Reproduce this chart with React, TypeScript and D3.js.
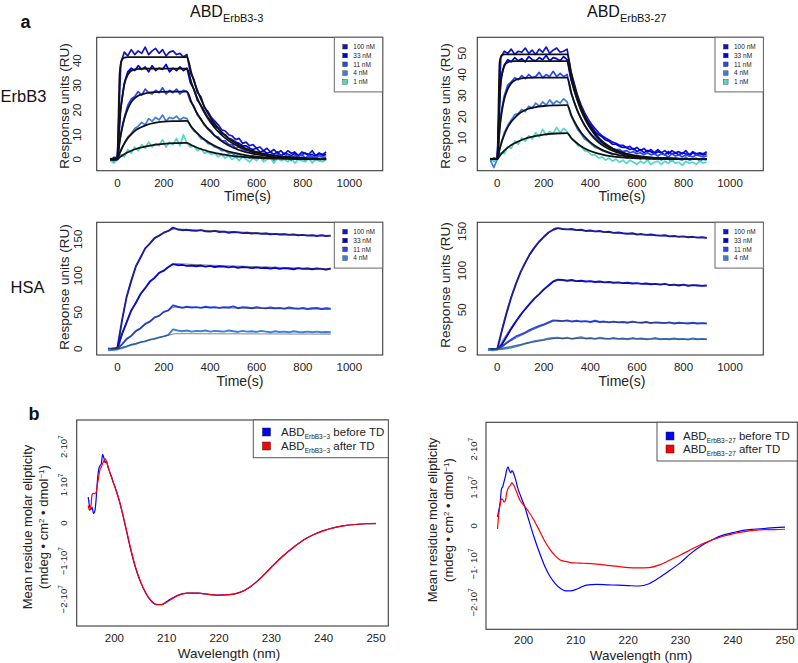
import React from 'react';
import * as d3 from 'd3';

const FONT = '"Liberation Sans", Arial, Helvetica, sans-serif';

// ---------------- legend / categories ----------------
const CONC_LABELS = ['100 nM', '33 nM', '11 nM', '4 nM', '1 nM'];
const CONC_COLORS = ['#1414bc', '#0000e4', '#2848f4', '#3c80dc', '#50d8c8'];

const X_TICKS_SPR = [0, 200, 400, 600, 800, 1000];
const Y_TICKS_ERB3_3 = [0, 10, 20, 30, 40];
const Y_TICKS_ERB3_27 = [0, 10, 20, 30, 40, 50];
const Y_TICKS_HSA = [0, 50, 100, 150];

// sampling of the measured sensorgrams (s)
const ERB_T0 = -30, ERB_DT = 15;
const HSA_T0 = -40, HSA_DT = 20;

// ---------------- ABD ErbB3-3 on ErbB3 (RU) ----------------
const ERB3_3_ERB_100 = [0.5, -0.8, 1.5, 39, 43.5, 42, 44.5, 42.5, 44, 43, 45.5, 42.5, 44, 45, 43, 44.5, 42, 43.5, 44, 42.5, 43, 41.5, 42.5,
  35, 32.5, 27, 25.5, 21, 19.5, 17, 15.5, 14, 12, 11.5, 10, 9.5, 8, 8.5, 6.5, 7, 5.5, 6, 4.5, 5, 3.5, 4.5, 3, 4, 2.5, 3.5, 2, 3.5, 2.5, 3, 1.5, 3, 2.5, 2, 3.5, 1.5, 2.5, 2, 3];
const ERB3_3_ERB_33 = [-0.5, 0.8, 0.5, 21, 31, 35.5, 37, 36, 38, 36.5, 37.5, 35.5, 38, 36, 37, 36.5, 38.5, 35.5, 37, 36, 37.5, 36, 37,
  31, 28.5, 24, 22, 19.5, 17, 15.5, 13.5, 12.5, 10.5, 10, 8.5, 8, 7, 6.5, 5.5, 5.5, 4.5, 4, 4.5, 3, 3.5, 2.5, 3, 2, 3, 1.5, 2.5, 2, 1.5, 2.5, 1, 2, 2.5, 1.5, 2, 1, 2.5, 1.5, 2];
const ERB3_3_ERB_11 = [0.3, -0.5, 0.2, 10.5, 17, 22, 24.5, 25.5, 27.5, 26, 28.5, 27, 26.5, 28, 27, 29, 26.5, 28, 27, 28.5, 26.5, 28, 27.5,
  23.5, 21.5, 18, 16.5, 14, 12.5, 11.5, 9.5, 9, 7.5, 7.5, 6, 6, 4.5, 5, 4, 3.5, 3.5, 2.5, 3, 2, 2.5, 1.5, 2, 1, 2, 1.5, 1, 2, 0.5, 1.5, 1, 2, 0.5, 1.5, 1, 0.5, 1.5, 1, 0.8];
const ERB3_3_ERB_4 = [0.5, -1, 0.5, 3.5, 6.5, 9, 10.5, 12.5, 13.5, 15, 14, 16.5, 15.5, 17, 16, 18, 15.5, 17, 16.5, 17.5, 16, 17, 16.5,
  13.5, 11.5, 10.5, 8.5, 8, 6.5, 6, 5, 4.5, 3.5, 3.5, 2.5, 2.5, 1.5, 2, 1, 1.5, 0.5, 1.5, 0.5, 1, 0, 1, 0.5, -0.5, 1, 0, 0.5, 1, -0.5, 0.5, 0, 1, -0.5, 0.5, 0, 1, -0.5, 0.5, 0];
const ERB3_3_ERB_1 = [-0.5, -1.5, 0, 2, 1, 4, 2.5, 5, 3.5, 6, 4.5, 7, 5, 6.5, 5.5, 8, 5, 7, 6, 8.5, 5.5, 10, 6.5,
  5, 5.5, 3.5, 4.5, 2.5, 3, 2, 2.5, 1, 2, 0.5, 1.5, 0, 1, -0.5, 1, 0, -1, 0.5, -0.5, 1, -1, 0, 0.5, -1.5, 0.5, -0.5, 0, -1, 0.5, -1.5, 0, -0.5, -1, 0.5, -1.5, 0, -0.5, -1, 0];

// ---------------- ABD ErbB3-27 on ErbB3 (RU) ----------------
const ERB3_27_ERB_100 = [0.5, -1, 1, 48, 51, 50, 52, 49.5, 51, 50.5, 52.5, 50, 51.5, 49.5, 52, 50.5, 53, 50, 51.5, 52.5, 50.5, 51, 52,
  42, 36, 30, 25.5, 22, 19, 16.5, 14.5, 12.5, 11, 10, 9, 8, 7.5, 6.5, 6.5, 5.5, 6, 4.5, 5.5, 4, 5, 3.5, 4.5, 3, 4.5, 3, 4, 2.5, 4, 3, 3.5, 2.5, 4, 2, 3.5, 2.5, 3, 2.5, 3.5];
const ERB3_27_ERB_33 = [-0.5, 0.5, 0, 38, 44.5, 47, 46, 48, 46.5, 47.5, 46, 48.5, 47, 46.5, 48, 47, 49, 46.5, 48, 47.5, 46.5, 48.5, 47,
  38.5, 33, 28, 24, 20.5, 17.5, 15.5, 13, 11.5, 10.5, 9, 8.5, 7, 7, 6, 5.5, 5.5, 4.5, 5, 3.5, 4.5, 3, 4, 3.5, 2.5, 3.5, 3, 2, 3.5, 2.5, 3, 2, 3, 2.5, 1.5, 3, 2, 2.5, 2, 2.5];
const ERB3_27_ERB_11 = [0.3, -0.5, 0.5, 21, 30, 35, 36.5, 38.5, 37.5, 39.5, 38, 40, 38.5, 39, 41, 38.5, 40, 39, 41.5, 39, 40.5, 39, 40,
  32, 27, 22.5, 19, 16, 13.5, 11.5, 10, 8.5, 7.5, 6.5, 6, 5, 4.5, 4.5, 3.5, 4, 3, 3.5, 2.5, 3, 2, 3, 2, 2.5, 1.5, 2.5, 2, 1, 2.5, 1.5, 2, 1, 2, 1.5, 1, 2, 1.5, 1, 1.5];
const ERB3_27_ERB_4 = [-0.5, -4, 0, 7, 12.5, 16, 18.5, 21, 21.5, 23.5, 22.5, 25, 24, 26.5, 25, 27, 25.5, 28, 26, 27.5, 26.5, 28.5, 27,
  21, 17.5, 14, 12, 9.5, 8.5, 7, 5.5, 5, 4, 3.5, 3, 2, 2.5, 1.5, 2, 0.5, 1.5, 0.5, 1, 0, 1, -0.5, 0.5, 0, 1, -0.5, 0.5, 0, -1, 0.5, 0, -0.5, 1, -0.5, 0, 0.5, -1, 0, -0.5];
const ERB3_27_ERB_1 = [0.5, -1, 0.5, 3, 2.5, 6, 5, 8.5, 7, 10, 8.5, 11, 9.5, 12.5, 10.5, 14, 11.5, 13, 12, 15, 12.5, 14.5, 13,
  10, 9, 6.5, 6, 4, 3.5, 2, 2, 0.5, 1, -0.5, 0.5, -1, 0, -1.5, -0.5, -2, -0.5, -1.5, -2.5, -1, -2, -0.5, -2.5, -1.5, -1, -2.5, -1, -2, -0.5, -2, -1.5, -3, -1, -2, -1.5, -2.5, -1, -2, -1.5];

// ---------------- fitted 1:1 curves on ErbB3 ----------------
const FIT_T_ERB = [-30, 0, 10, 20, 30, 45, 60, 80, 100, 130, 160, 200, 250, 300, 320, 340, 360, 380, 400, 430, 460, 500, 550, 600, 650, 700, 800, 900];
const FIT_ERB3_3_ERB_100 = [0, 0, 35, 40.5, 41.3, 41.5, 41.5, 41.5, 41.5, 41.5, 41.5, 41.5, 41.5, 41.5, 34.8, 29.2, 24.5, 20.5, 17.2, 13.2, 10.1, 7.1, 4.6, 3.0, 1.9, 1.2, 0.5, 0.2];
const FIT_ERB3_3_ERB_33 = [0, 0, 16.6, 24.3, 30.2, 34.3, 36.0, 36.5, 36.7, 36.8, 36.8, 36.8, 36.8, 36.8, 30.9, 25.9, 21.7, 18.2, 15.3, 11.7, 9.0, 6.3, 4.1, 2.6, 1.7, 1.1, 0.5, 0.2];
const FIT_ERB3_3_ERB_11 = [0, 0, 7.1, 12.4, 16.4, 20.5, 23.3, 25.2, 26.2, 27.0, 27.3, 27.4, 27.5, 27.5, 23.1, 19.3, 16.2, 13.6, 11.4, 8.8, 6.7, 4.7, 3.0, 2.0, 1.3, 0.8, 0.3, 0.1];
const FIT_ERB3_3_ERB_4 = [0, 0, 2.5, 4.6, 6.4, 8.6, 10.1, 11.9, 12.9, 14.1, 14.8, 15.3, 15.5, 15.6, 13.1, 11.0, 9.2, 7.8, 6.5, 5.0, 3.8, 2.7, 1.7, 1.1, 0.7, 0.5, 0.2, 0.1];
const FIT_ERB3_3_ERB_1 = [0, 0, 0.8, 1.5, 2.1, 2.9, 3.5, 4.2, 4.8, 5.4, 5.9, 6.3, 6.6, 6.7, 5.7, 4.9, 4.2, 3.6, 3.0, 2.4, 1.9, 1.3, 0.9, 0.6, 0.4, 0.3, 0.1, 0];
const FIT_ERB3_27_ERB_100 = [0, 0, 46, 49.2, 49.5, 49.5, 49.5, 49.5, 49.5, 49.5, 49.5, 49.5, 49.5, 49.5, 39.2, 31.0, 24.5, 19.4, 15.3, 10.8, 7.6, 4.8, 2.7, 1.5, 0.8, 0.5, 0.1, 0];
const FIT_ERB3_27_ERB_33 = [0, 0, 29.3, 40, 44, 45.8, 46.2, 46.3, 46.3, 46.3, 46.3, 46.3, 46.3, 46.3, 36.6, 29.0, 22.9, 18.2, 14.4, 10.1, 7.1, 4.4, 2.5, 1.4, 0.8, 0.4, 0.1, 0];
const FIT_ERB3_27_ERB_11 = [0, 0, 14, 22.8, 28.4, 33.2, 35.9, 37.5, 38.1, 38.4, 38.5, 38.5, 38.5, 38.5, 30.5, 24.1, 19.1, 15.1, 11.9, 8.4, 5.9, 3.7, 2.1, 1.2, 0.7, 0.4, 0.1, 0];
const FIT_ERB3_27_ERB_4 = [0, 0, 4.6, 8.4, 11.5, 15.1, 17.7, 20.1, 22.0, 23.7, 24.5, 25.1, 25.4, 25.5, 20.2, 16.0, 12.6, 10.0, 7.9, 5.6, 3.9, 2.4, 1.4, 0.8, 0.4, 0.2, 0.1, 0];
const FIT_ERB3_27_ERB_1 = [0, 0, 1.5, 2.8, 4.0, 5.4, 6.6, 7.8, 8.8, 10.0, 10.8, 11.6, 12.1, 12.3, 9.7, 7.7, 6.1, 4.8, 3.8, 2.7, 1.9, 1.2, 0.7, 0.4, 0.2, 0.1, 0, 0];

// ---------------- ABD ErbB3-3 on HSA (RU) ----------------
const ERB3_3_HSA_100 = [-1, 0.5, 1, 38.5, 71, 93, 113, 125, 137.5, 144, 151.5, 155, 159, 161.5, 166, 163.5, 162.5, 163, 162, 161.5, 162.5, 161, 160.5, 161.5, 160, 160.5, 159, 160, 159.5, 158.5, 159, 158, 158.5, 157.5, 158, 157, 157.5, 156.5, 157, 156, 156.5, 155.5, 156, 155, 155.5, 154.5, 155.5, 154.5, 155];
const ERB3_3_HSA_33 = [0, -1, 0.5, 20, 36, 52.5, 63, 75, 83, 92, 97, 104, 107, 112, 116, 114.5, 115, 113.5, 114, 113, 114, 112.5, 113.5, 112, 113, 112.5, 111.5, 112.5, 111, 112, 111.5, 110.5, 111.5, 110.5, 111, 110, 111, 109.5, 110.5, 110, 109, 110.5, 109.5, 110, 109, 110, 109.5, 108.5, 110];
const ERB3_3_HSA_11 = [0.5, -0.5, 0, 6, 13.5, 17.5, 24.5, 28, 34, 37, 43, 45, 50.5, 52.5, 59.5, 57.5, 56, 57.5, 56.5, 57, 56, 57.5, 56.5, 57, 56, 57, 56.5, 58, 55.5, 57, 56.5, 55.5, 57, 56, 55.5, 56.5, 55.5, 56, 55, 56.5, 55.5, 55, 56, 54.5, 55.5, 56, 54.5, 55.5, 55];
const ERB3_3_HSA_4 = [-2, -1.5, -1, 1, 3, 5.5, 6.5, 9, 10, 12.5, 13.5, 15.5, 17, 19, 26.5, 25, 24, 25, 23.5, 24.5, 24, 25, 23.5, 24.5, 24, 23.5, 25, 24, 23, 24.5, 23.5, 24, 23, 24.5, 23.5, 22.5, 24, 23, 23.5, 22.5, 24, 23, 22.5, 23.5, 22.5, 23.5, 22.5, 23, 22.5];

// ---------------- ABD ErbB3-27 on HSA (RU) ----------------
const ERB3_27_HSA_100 = [-1, 0, 0.5, 24, 46, 66, 83, 98, 110, 121, 129.5, 137, 143, 148.5, 152, 154, 153, 152.5, 153, 151.5, 152, 150.5, 151, 150, 150.5, 149, 149.5, 148, 148.5, 147.5, 147, 147.5, 146, 146.5, 145.5, 146, 145, 144.5, 145, 143.5, 144, 143, 143.5, 142.5, 143, 142, 142.5, 141.5];
const ERB3_27_HSA_33 = [-0.5, 0, -0.5, 6, 16, 26, 35, 43.5, 51, 58, 64.5, 70, 76, 81, 86, 88.5, 88, 87, 88, 86.5, 87, 86, 86.5, 85.5, 86, 85, 85.5, 84.5, 85, 84, 84.5, 83.5, 84, 83, 83.5, 82.5, 83, 82, 83, 81.5, 82, 81, 82, 80.5, 81.5, 81, 80.5, 81];
const ERB3_27_HSA_11 = [0, -0.5, 0.5, 3, 8, 12, 16, 18.5, 21, 24.5, 27, 29.5, 31.5, 34, 36.5, 36, 35.5, 36.5, 35, 36, 35, 35.5, 34.5, 36, 34.5, 35, 34, 35, 34, 34.5, 33.5, 35, 34, 33.5, 34.5, 33, 34, 33.5, 33, 34, 32.5, 33.5, 33, 32.5, 33.5, 32.5, 33, 32.5];
const ERB3_27_HSA_4 = [-1, -1.5, -0.5, 0, 1, 2, 3.5, 5, 7, 8.5, 10, 11, 12, 13.5, 14, 14.5, 13.5, 14.5, 13, 14, 15, 13.5, 14, 13, 14.5, 13.5, 13, 14, 13, 13.5, 12.5, 14, 13, 13.5, 12.5, 13, 14, 12.5, 13, 12.5, 13.5, 12.5, 13, 12, 13.5, 12.5, 13, 12.5];

// ---------------- fitted curves on HSA ----------------
const FIT_T_HSA3 = [-30, 0, 25, 50, 75, 100, 125, 150, 175, 200, 225, 250, 300, 400, 500, 600, 700, 800, 920];
const FIT_T_HSA27 = [-30, 0, 25, 50, 75, 100, 125, 150, 175, 200, 225, 250, 300, 400, 500, 600, 700, 800, 900];
const FIT_ERB3_3_HSA_100 = [0, 0, 48.8, 83.5, 108.4, 126, 138.9, 147.6, 154.0, 158.6, 162.0, 164.2, 163.5, 162, 160.5, 159, 157.5, 156, 154.5];
const FIT_ERB3_3_HSA_33 = [0, 0, 24.5, 44.6, 60.8, 74.4, 85.5, 94.4, 101.9, 107.8, 112.6, 116.8, 116, 114.5, 113.5, 112.5, 111.5, 110.5, 109.5];
const FIT_ERB3_3_HSA_11 = [0, 0, 7.9, 15.3, 22.2, 28.5, 34.4, 39.8, 44.9, 49.6, 53.9, 57.2, 56.8, 56.2, 55.7, 55.2, 54.8, 54.4, 54];
const FIT_ERB3_3_HSA_4 = [0, 0, 2.3, 4.5, 6.7, 8.8, 10.9, 12.9, 14.9, 16.9, 18.8, 20.6, 20.6, 20.5, 20.4, 20.3, 20.2, 20.1, 20];
const FIT_ERB3_27_HSA_100 = [0, 0, 31.9, 58.1, 79.9, 97.6, 112.7, 124.2, 133.9, 142.2, 148.8, 154.4, 152.5, 150, 148, 146, 144.5, 143.2, 142];
const FIT_ERB3_27_HSA_33 = [0, 0, 12.2, 23.6, 34.1, 43.9, 52.8, 61.0, 68.6, 75.6, 82.1, 88.1, 87.2, 85.8, 84.6, 83.5, 82.6, 81.8, 81];
const FIT_ERB3_27_HSA_11 = [0, 0, 4.7, 9.1, 13.1, 17.0, 20.6, 24.1, 27.3, 30.3, 33.3, 36.1, 35.7, 35.0, 34.4, 33.9, 33.5, 33.1, 32.8];
const FIT_ERB3_27_HSA_4 = [0, 0, 1.5, 3, 4.4, 5.9, 7.2, 8.6, 9.9, 11.1, 12.3, 13.5, 13.4, 13.2, 13.0, 12.9, 12.8, 12.7, 12.6];

// ---------------- CD spectra (units of 1e7 mdeg cm2 dmol-1) ----------------
const CD_WL = [195, 195.25, 195.5, 195.75, 196, 196.25, 196.5, 196.75, 197, 197.25, 197.5, 197.75, 198, 198.25, 198.5, 198.75, 199, 199.25, 199.5, 199.75,
  200, 201, 202, 203, 204, 205, 206, 207, 208, 209, 210, 211, 212, 214, 216, 218, 220, 222, 224, 226, 228, 230, 232, 234, 236, 238, 240, 242, 244, 246, 248, 250];
const CD3_BEFORE = [0.68, 0.45, 0.35, 0.42, 0.25, 0.3, 0.6, 1.1, 1.4, 1.5, 1.55, 1.8, 1.7, 1.58, 1.62, 1.48, 1.38, 1.28, 1.2, 1.08,
  0.99, 0.55, -0.02, -0.63, -1.16, -1.55, -1.84, -2.04, -2.14, -2.14, -2.06, -1.97, -1.9, -1.84, -1.84, -1.87, -1.89, -1.88, -1.82, -1.67, -1.44, -1.16, -0.89, -0.66, -0.46, -0.31, -0.2, -0.12, -0.07, -0.04, -0.02, -0.02];
const CD3_AFTER = [0.46, 0.33, 0.42, 0.75, 0.78, 0.77, 0.8, 1.0, 1.21, 1.4, 1.47, 1.55, 1.63, 1.69, 1.6, 1.5, 1.39, 1.28, 1.18, 1.08,
  0.99, 0.56, 0.0, -0.6, -1.13, -1.53, -1.83, -2.03, -2.13, -2.14, -2.08, -1.99, -1.91, -1.84, -1.84, -1.87, -1.89, -1.88, -1.82, -1.67, -1.44, -1.16, -0.89, -0.66, -0.46, -0.31, -0.2, -0.12, -0.07, -0.04, -0.02, -0.01];
const CD27_BEFORE = [0.23, 0.4, 0.6, 0.95, 1.02, 1.15, 1.28, 1.45, 1.54, 1.45, 1.38, 1.44, 1.4, 1.3, 1.19, 1.05, 0.93, 0.84, 0.75, 0.66,
  0.58, 0.14, -0.3, -0.69, -1.04, -1.31, -1.5, -1.63, -1.7, -1.7, -1.66, -1.6, -1.55, -1.53, -1.54, -1.55, -1.56, -1.57, -1.51, -1.35, -1.16, -0.96, -0.72, -0.52, -0.37, -0.25, -0.18, -0.12, -0.09, -0.07, -0.05, -0.035];
const CD27_AFTER = [-0.08, 0.3, 0.55, 0.7, 0.68, 0.62, 0.65, 0.85, 0.97, 1.02, 1.06, 1.13, 1.08, 1.02, 0.93, 0.85, 0.76, 0.68, 0.62, 0.58,
  0.54, 0.36, 0.14, -0.12, -0.39, -0.61, -0.78, -0.89, -0.93, -0.96, -0.97, -0.975, -0.98, -1.0, -1.03, -1.06, -1.09, -1.1, -1.09, -1.02, -0.89, -0.76, -0.62, -0.48, -0.37, -0.28, -0.21, -0.16, -0.12, -0.1, -0.1, -0.09];
const CD_X_TICKS = [200, 210, 220, 230, 240, 250];
const CD_Y_TICKS = [2, 1, 0, -1, -2];
const CD_COLORS = ['#0000ff', '#ff0000'];

type SPRProps = {
  id: string;
  x0: number; y0: number; x1: number; y1: number;
  xDomain: [number, number]; yDomain: [number, number];
  yTicks: number[]; series: number[][]; t0: number; dt: number;
  fitT: number[]; fits: number[][]; fitWidth: number; fitColor: string; dataWidth: number;
  yTickX: number; yLabelX: number; yLabelY: number; xTickY: number; xLabelX: number; xLabelY: number;
  legendX: number;
};

function SPRPanel(p: SPRProps) {
  const xs = d3.scaleLinear().domain(p.xDomain).range([p.x0, p.x1]);
  const ys = d3.scaleLinear().domain(p.yDomain).range([p.y1, p.y0]);
  const dataLine = d3.line<number>().x((_, i) => xs(p.t0 + i * p.dt)).y((d) => ys(d));
  const fitLine = d3.line<number>().x((_, i) => xs(p.fitT[i])).y((d) => ys(d)).curve(d3.curveMonotoneX);
  const n = p.series.length;
  const legH = 9.4 + (n - 1) * 8.8 + 10;
  const legW = 48.4;
  return (
    <g>
      <defs>
        <clipPath id={p.id}>
          <rect x={p.x0} y={p.y0} width={p.x1 - p.x0} height={p.y1 - p.y0} />
        </clipPath>
      </defs>
      <g clipPath={`url(#${p.id})`}>
        {p.series.map((s, k) => (
          <path key={k} d={dataLine(s) || ''} fill="none" stroke={CONC_COLORS[k]} strokeWidth={p.dataWidth} strokeLinejoin="round" />
        ))}
        {p.fits.map((s, k) => (
          <path key={'f' + k} d={fitLine(s) || ''} fill="none" stroke={p.fitColor} strokeWidth={p.fitWidth} strokeLinejoin="round" />
        ))}
      </g>
      <rect x={p.x0} y={p.y0} width={p.x1 - p.x0} height={p.y1 - p.y0} fill="none" stroke="#3a3a3a" strokeWidth={1.1} />
      {X_TICKS_SPR.map((t) => (
        <text key={'x' + t} x={xs(t)} y={p.xTickY} fontSize={11.5} textAnchor="middle" fill="#222">{t}</text>
      ))}
      {p.yTicks.map((t) => (
        <text key={'y' + t} transform={`translate(${p.yTickX},${ys(t)}) rotate(-90)`} fontSize={11.5} textAnchor="middle" fill="#222">{t}</text>
      ))}
      <text transform={`translate(${p.yLabelX},${p.yLabelY}) rotate(-90)`} fontSize={13.5} textAnchor="middle" fill="#222">Response units (RU)</text>
      <text x={p.xLabelX} y={p.xLabelY} fontSize={14} textAnchor="middle" fill="#222">Time(s)</text>
      <g>
        <rect x={p.legendX} y={p.y0} width={legW} height={legH} fill="#fff" stroke="#666" strokeWidth={1} />
        {p.series.map((_, k) => {
          const cy = p.y0 + 9.4 + k * 8.8;
          return (
            <g key={'l' + k}>
              <rect x={p.legendX + 8.5} y={cy - 2.3} width={4.6} height={4.6} fill={CONC_COLORS[k]} stroke="#222" strokeWidth={0.4} />
              <text x={p.legendX + 19} y={cy + 2.3} fontSize={6.5} fill="#222">{CONC_LABELS[k]}</text>
            </g>
          );
        })}
      </g>
    </g>
  );
}

type CDProps = {
  id: string;
  x0: number; y0: number; x1: number; y1: number;
  curves: number[][]; subscript: string;
  yTickX: number; yLab1X: number; yLab2X: number; yLabelY: number;
  xTickY: number; xLabelX: number; xLabelY: number;
  legX0: number; legY0: number; legX1: number; legY1: number; sqX: number; txtX: number; rowY: number[];
  spaceInMinusOne: boolean;
};

function CDPanel(p: CDProps) {
  const xs = d3.scaleLinear().domain([192.8, 252.35]).range([p.x0, p.x1]);
  const ys = d3.scaleLinear().domain([-2.7, 2.7]).range([p.y1, p.y0]);
  const line = d3.line<number>().x((_, i) => xs(CD_WL[i])).y((d) => ys(d)).curve(d3.curveMonotoneX);
  const tickLabel = (v: number) => {
    if (v === 0) return <tspan>0</tspan>;
    const sign = v < 0 ? '\u2212' : '';
    const mid = p.spaceInMinusOne && v === -1 ? '\u00b7 10' : '\u00b710';
    return (
      <>
        <tspan>{sign + Math.abs(v) + mid}</tspan>
        <tspan dy={-4} fontSize={6.5}>7</tspan>
      </>
    );
  };
  const legendTexts = ['before TD', 'after TD'];
  return (
    <g>
      <defs>
        <clipPath id={p.id}>
          <rect x={p.x0} y={p.y0} width={p.x1 - p.x0} height={p.y1 - p.y0} />
        </clipPath>
      </defs>
      <g clipPath={`url(#${p.id})`}>
        {p.curves.map((c, k) => (
          <path key={k} d={line(c) || ''} fill="none" stroke={CD_COLORS[k]} strokeWidth={1.2} strokeLinejoin="round" />
        ))}
      </g>
      <rect x={p.x0} y={p.y0} width={p.x1 - p.x0} height={p.y1 - p.y0} fill="none" stroke="#3a3a3a" strokeWidth={1.1} />
      {CD_X_TICKS.map((t) => (
        <text key={'x' + t} x={xs(t)} y={p.xTickY} fontSize={11.5} textAnchor="middle" fill="#222">{t}</text>
      ))}
      {CD_Y_TICKS.map((t) => (
        <text key={'y' + t} transform={`translate(${p.yTickX},${ys(t)}) rotate(-90)`} fontSize={9.5} textAnchor="middle" fill="#222">{tickLabel(t)}</text>
      ))}
      <text transform={`translate(${p.yLab1X},${p.yLabelY}) rotate(-90)`} fontSize={13} textAnchor="middle" fill="#222">Mean residue molar elipticity</text>
      <text transform={`translate(${p.yLab2X},${p.yLabelY}) rotate(-90)`} fontSize={13} textAnchor="middle" fill="#222">
        <tspan>(mdeg • cm</tspan>
        <tspan dy={-4} fontSize={8}>2</tspan>
        <tspan dy={4}> • dmol</tspan>
        <tspan dy={-4} fontSize={8}>−1</tspan>
        <tspan dy={4}>)</tspan>
      </text>
      <text x={p.xLabelX} y={p.xLabelY} fontSize={13.5} textAnchor="middle" fill="#222">Wavelength (nm)</text>
      <rect x={p.legX0} y={p.legY0} width={p.legX1 - p.legX0} height={p.legY1 - p.legY0} fill="#fff" stroke="#555" strokeWidth={1} />
      {legendTexts.map((lt, k) => (
        <g key={'lg' + k}>
          <rect x={p.sqX} y={p.rowY[k] - 4} width={8} height={8} fill={CD_COLORS[k]} stroke="#222" strokeWidth={0.5} />
          <text x={p.txtX} y={p.rowY[k] + 4} fontSize={11.5} fill="#222">
            <tspan>ABD</tspan>
            <tspan dy={2.5} fontSize={6.5}>{p.subscript}</tspan>
            <tspan dy={-2.5}>{' ' + lt}</tspan>
          </text>
        </g>
      ))}
    </g>
  );
}

export default function App() {
  return (
    <svg width={798} height={663} viewBox="0 0 798 663" style={{ position: 'absolute', left: 0, top: 0, background: '#fff' }} fontFamily={FONT}>
      <rect x={0} y={0} width={798} height={663} fill="#fff" />
      {/* headings */}
      <text x={20.5} y={28} fontSize={18} fontWeight="bold" fill="#111">a</text>
      <text x={28.5} y={420} fontSize={18} fontWeight="bold" fill="#111">b</text>
      <text x={190} y={17} fontSize={16} fill="#111">ABD<tspan dy={4.5} fontSize={11}>ErbB3-3</tspan></text>
      <text x={587} y={17} fontSize={16} fill="#111">ABD<tspan dy={4.5} fontSize={11}>ErbB3-27</tspan></text>
      <text x={0.5} y={101.5} fontSize={16.5} fill="#111">ErbB3</text>
      <text x={10.5} y={293} fontSize={16.5} fill="#111">HSA</text>

      <SPRPanel id="c1" x0={96.7} y0={37.3} x1={382.7} y1={170.7} xDomain={[-89, 1144]} yDomain={[-4.6, 49.5]}
        yTicks={Y_TICKS_ERB3_3} series={[ERB3_3_ERB_100, ERB3_3_ERB_33, ERB3_3_ERB_11, ERB3_3_ERB_4, ERB3_3_ERB_1]}
        t0={ERB_T0} dt={ERB_DT} fitT={FIT_T_ERB}
        fits={[FIT_ERB3_3_ERB_100, FIT_ERB3_3_ERB_33, FIT_ERB3_3_ERB_11, FIT_ERB3_3_ERB_4, FIT_ERB3_3_ERB_1]}
        fitWidth={1.8} fitColor="#111" dataWidth={1.7} yTickX={81} yLabelX={69} yLabelY={106} xTickY={187} xLabelX={247.5} xLabelY={201} legendX={334.3} />

      <SPRPanel id="c2" x0={477.3} y0={37.3} x1={763.3} y1={170.7} xDomain={[-86, 1143]} yDomain={[-5.5, 57.6]}
        yTicks={Y_TICKS_ERB3_27} series={[ERB3_27_ERB_100, ERB3_27_ERB_33, ERB3_27_ERB_11, ERB3_27_ERB_4, ERB3_27_ERB_1]}
        t0={ERB_T0} dt={ERB_DT} fitT={FIT_T_ERB}
        fits={[FIT_ERB3_27_ERB_100, FIT_ERB3_27_ERB_33, FIT_ERB3_27_ERB_11, FIT_ERB3_27_ERB_4, FIT_ERB3_27_ERB_1]}
        fitWidth={1.8} fitColor="#111" dataWidth={1.7} yTickX={466} yLabelX={450} yLabelY={106} xTickY={187} xLabelX={622} xLabelY={201} legendX={715} />

      <SPRPanel id="c3" x0={96.7} y0={222.3} x1={382.7} y1={355} xDomain={[-89, 1144]} yDomain={[-8.6, 173.3]}
        yTicks={Y_TICKS_HSA} series={[ERB3_3_HSA_100, ERB3_3_HSA_33, ERB3_3_HSA_11, ERB3_3_HSA_4]}
        t0={HSA_T0} dt={HSA_DT} fitT={FIT_T_HSA3}
        fits={[FIT_ERB3_3_HSA_100, FIT_ERB3_3_HSA_33, FIT_ERB3_3_HSA_11, FIT_ERB3_3_HSA_4]}
        fitWidth={0.6} fitColor="#333" dataWidth={1.9} yTickX={82} yLabelX={69} yLabelY={287} xTickY={371} xLabelX={240} xLabelY={386} legendX={334.3} />

      <SPRPanel id="c4" x0={477.3} y0={222.3} x1={763.3} y1={355} xDomain={[-86, 1143]} yDomain={[-7.6, 161.5]}
        yTicks={Y_TICKS_HSA} series={[ERB3_27_HSA_100, ERB3_27_HSA_33, ERB3_27_HSA_11, ERB3_27_HSA_4]}
        t0={HSA_T0} dt={HSA_DT} fitT={FIT_T_HSA27}
        fits={[FIT_ERB3_27_HSA_100, FIT_ERB3_27_HSA_33, FIT_ERB3_27_HSA_11, FIT_ERB3_27_HSA_4]}
        fitWidth={0.6} fitColor="#333" dataWidth={1.9} yTickX={466} yLabelX={450} yLabelY={285} xTickY={371} xLabelX={622} xLabelY={386} legendX={715} />

      <CDPanel id="c5" x0={76.7} y0={420} x1={388.3} y1={626} curves={[CD3_BEFORE, CD3_AFTER]} subscript="ErbB3−3"
        yTickX={67} yLab1X={32} yLab2X={47.5} yLabelY={527} xTickY={641.5} xLabelX={229} xLabelY={657.5}
        legX0={253.3} legY0={420} legX1={388.3} legY1={457.7} sqX={262.5} txtX={281} rowY={[432, 446]} spaceInMinusOne={false} />

      <CDPanel id="c6" x0={486} y0={422.3} x1={797.3} y1={629.3} curves={[CD27_BEFORE, CD27_AFTER]} subscript="ErbB3−27"
        yTickX={477} yLab1X={437} yLab2X={453} yLabelY={520} xTickY={644} xLabelX={641} xLabelY={659.5}
        legX0={657} legY0={422.3} legX1={797.3} legY1={461} sqX={666} txtX={683} rowY={[436, 449]} spaceInMinusOne={true} />
    </svg>
  );
}
